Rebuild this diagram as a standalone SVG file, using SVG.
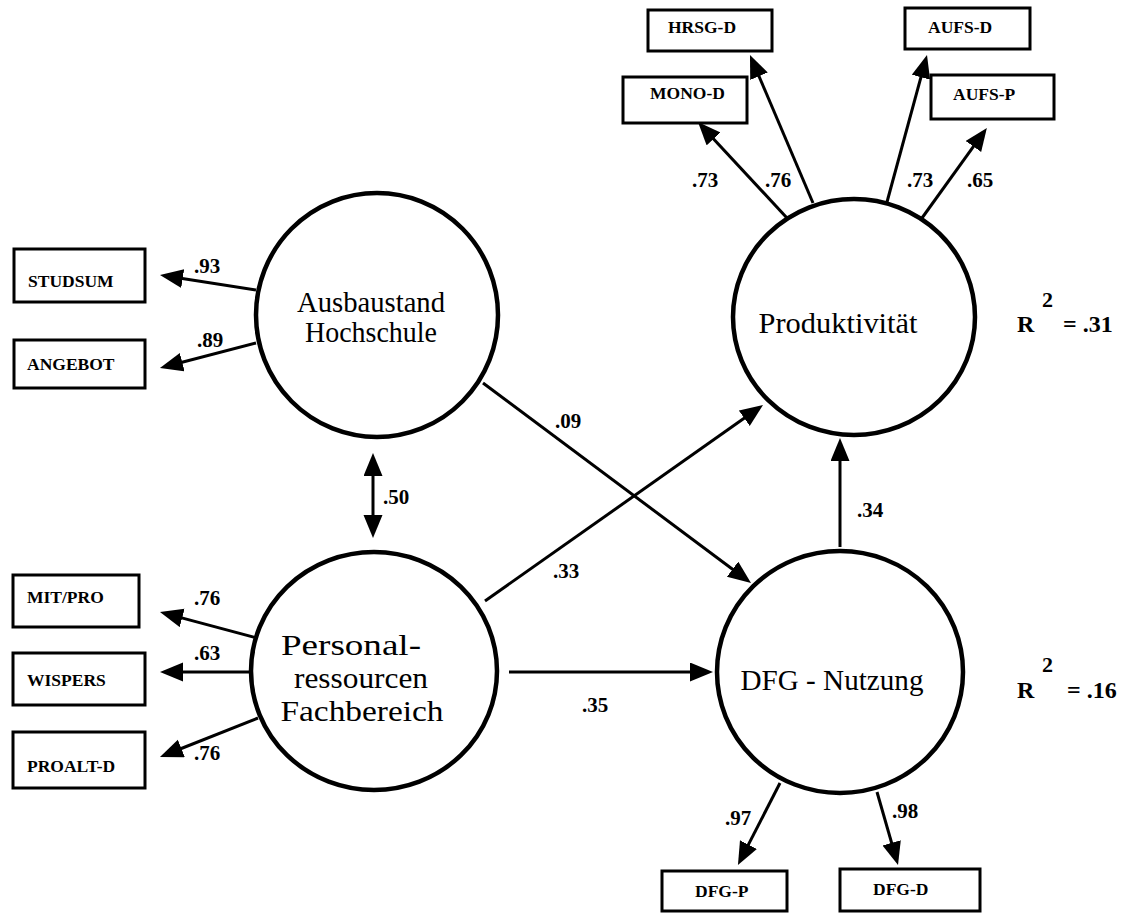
<svg xmlns="http://www.w3.org/2000/svg" width="1129" height="913" viewBox="0 0 1129 913">
<style>
.bg{fill:#fff}
.lat{fill:none;stroke:#000;stroke-width:4.5}
.box{fill:#fff;stroke:#000;stroke-width:3}
.ln{fill:none;stroke:#000;stroke-width:3;marker-end:url(#ah)}
.dbl{fill:none;stroke:#000;stroke-width:3;marker-end:url(#ah);marker-start:url(#ah)}
.big{font-family:"Liberation Serif","Times New Roman",serif;font-size:30px;fill:#000;text-anchor:middle}
.obs{font-family:"Liberation Serif","Times New Roman",serif;font-size:17.5px;font-weight:bold;fill:#000}
.num{font-family:"Liberation Serif","Times New Roman",serif;font-size:21px;font-weight:bold;fill:#000}
.r2{font-family:"Liberation Serif","Times New Roman",serif;font-size:24px;font-weight:bold;fill:#000}
.sup{font-family:"Liberation Serif","Times New Roman",serif;font-size:22px;font-weight:bold;fill:#000}
</style>
<defs>
<marker id="ah" markerUnits="userSpaceOnUse" markerWidth="26" markerHeight="22" refX="15" refY="9.5" orient="auto-start-reverse">
<path d="M0,0 L23,9.5 L0,19 z" fill="#000"/>
</marker>
</defs>
<rect class="bg" x="0" y="0" width="1129" height="913"/>

<g id="connectors">
<line class="ln" x1="256" y1="290" x2="167.9" y2="276.2"/>
<line class="ln" x1="256" y1="343" x2="167.7" y2="366"/>
<line class="ln" x1="257" y1="638" x2="167.7" y2="614.1"/>
<line class="ln" x1="250" y1="672" x2="168" y2="672"/>
<line class="ln" x1="258" y1="718" x2="167.4" y2="754"/>
<line class="ln" x1="787" y1="218" x2="703.4" y2="127.9"/>
<line class="ln" x1="813" y1="203" x2="753.1" y2="62.4"/>
<line class="ln" x1="887" y1="202" x2="924.9" y2="62.7"/>
<line class="ln" x1="922" y1="218" x2="982.2" y2="134.4"/>
<line class="ln" x1="483" y1="383" x2="744.6" y2="578.2"/>
<line class="ln" x1="485" y1="601" x2="756.5" y2="409.6"/>
<line class="ln" x1="509" y1="672" x2="705" y2="672"/>
<line class="ln" x1="840" y1="547" x2="840" y2="446"/>
<line class="dbl" x1="373" y1="461" x2="373" y2="530"/>
<line class="ln" x1="780" y1="783" x2="741.6" y2="857.9"/>
<line class="ln" x1="877" y1="792" x2="895.8" y2="857.3"/>
<text class="num" x="194" y="273">.93</text>
<text class="num" x="197" y="347">.89</text>
<text class="num" x="194" y="605">.76</text>
<text class="num" x="194" y="660">.63</text>
<text class="num" x="194" y="760">.76</text>
<text class="num" x="692" y="187">.73</text>
<text class="num" x="765" y="187">.76</text>
<text class="num" x="907" y="187">.73</text>
<text class="num" x="967" y="187">.65</text>
<text class="num" x="555" y="428">.09</text>
<text class="num" x="553" y="578">.33</text>
<text class="num" x="582" y="712">.35</text>
<text class="num" x="857" y="517">.34</text>
<text class="num" x="383" y="504">.50</text>
<text class="num" x="725" y="825">.97</text>
<text class="num" x="892" y="818">.98</text>
</g>

<g id="ausbaustand">
<ellipse class="lat" cx="377" cy="315" rx="121" ry="122"/>
<text class="big" x="371" y="312" textLength="148" lengthAdjust="spacingAndGlyphs">Ausbaustand</text>
<text class="big" x="371" y="342" textLength="132" lengthAdjust="spacingAndGlyphs">Hochschule</text>
</g>
<g id="personal">
<ellipse class="lat" cx="374" cy="671" rx="123" ry="119"/>
<text class="big" x="351" y="655" textLength="140" lengthAdjust="spacingAndGlyphs">Personal-</text>
<text class="big" x="361" y="688" textLength="134" lengthAdjust="spacingAndGlyphs">ressourcen</text>
<text class="big" x="362" y="721" textLength="163" lengthAdjust="spacingAndGlyphs">Fachbereich</text>
</g>
<g id="produktivitaet">
<ellipse class="lat" cx="854" cy="317" rx="121" ry="118"/>
<text class="big" x="838" y="333" textLength="159" lengthAdjust="spacingAndGlyphs">Produktivität</text>
</g>
<g id="dfg-nutzung">
<ellipse class="lat" cx="840" cy="672" rx="123" ry="121"/>
<text class="big" x="832" y="690" textLength="183" lengthAdjust="spacingAndGlyphs">DFG - Nutzung</text>
</g>

<g id="r2-prod">
<text class="r2" x="1017" y="332">R</text>
<text class="sup" x="1042" y="307">2</text>
<text class="r2" x="1063" y="332">= .31</text>
</g>
<g id="r2-dfg">
<text class="r2" x="1017" y="698">R</text>
<text class="sup" x="1042" y="672">2</text>
<text class="r2" x="1067" y="698">= .16</text>
</g>

<g id="studsum"><rect class="box" x="14" y="249" width="131" height="53"/><text class="obs" x="28" y="287">STUDSUM</text></g>
<g id="angebot"><rect class="box" x="14" y="340" width="131" height="48"/><text class="obs" x="27" y="370">ANGEBOT</text></g>
<g id="mitpro"><rect class="box" x="13" y="575" width="126" height="52"/><text class="obs" x="27" y="603">MIT/PRO</text></g>
<g id="wispers"><rect class="box" x="13" y="653" width="132" height="52"/><text class="obs" x="27" y="686">WISPERS</text></g>
<g id="proalt-d"><rect class="box" x="13" y="732" width="132" height="56"/><text class="obs" x="27" y="772">PROALT-D</text></g>
<g id="hrsg-d"><rect class="box" x="648" y="10" width="124" height="41"/><text class="obs" x="668" y="33">HRSG-D</text></g>
<g id="mono-d"><rect class="box" x="623" y="77" width="124" height="46"/><text class="obs" x="650" y="99">MONO-D</text></g>
<g id="aufs-d"><rect class="box" x="905" y="8" width="125" height="41"/><text class="obs" x="928" y="33">AUFS-D</text></g>
<g id="aufs-p"><rect class="box" x="931" y="75" width="123" height="44"/><text class="obs" x="953" y="100">AUFS-P</text></g>
<g id="dfg-p"><rect class="box" x="662" y="871" width="125" height="40"/><text class="obs" x="695" y="897">DFG-P</text></g>
<g id="dfg-d"><rect class="box" x="840" y="869" width="140" height="42"/><text class="obs" x="873" y="895">DFG-D</text></g>
</svg>
